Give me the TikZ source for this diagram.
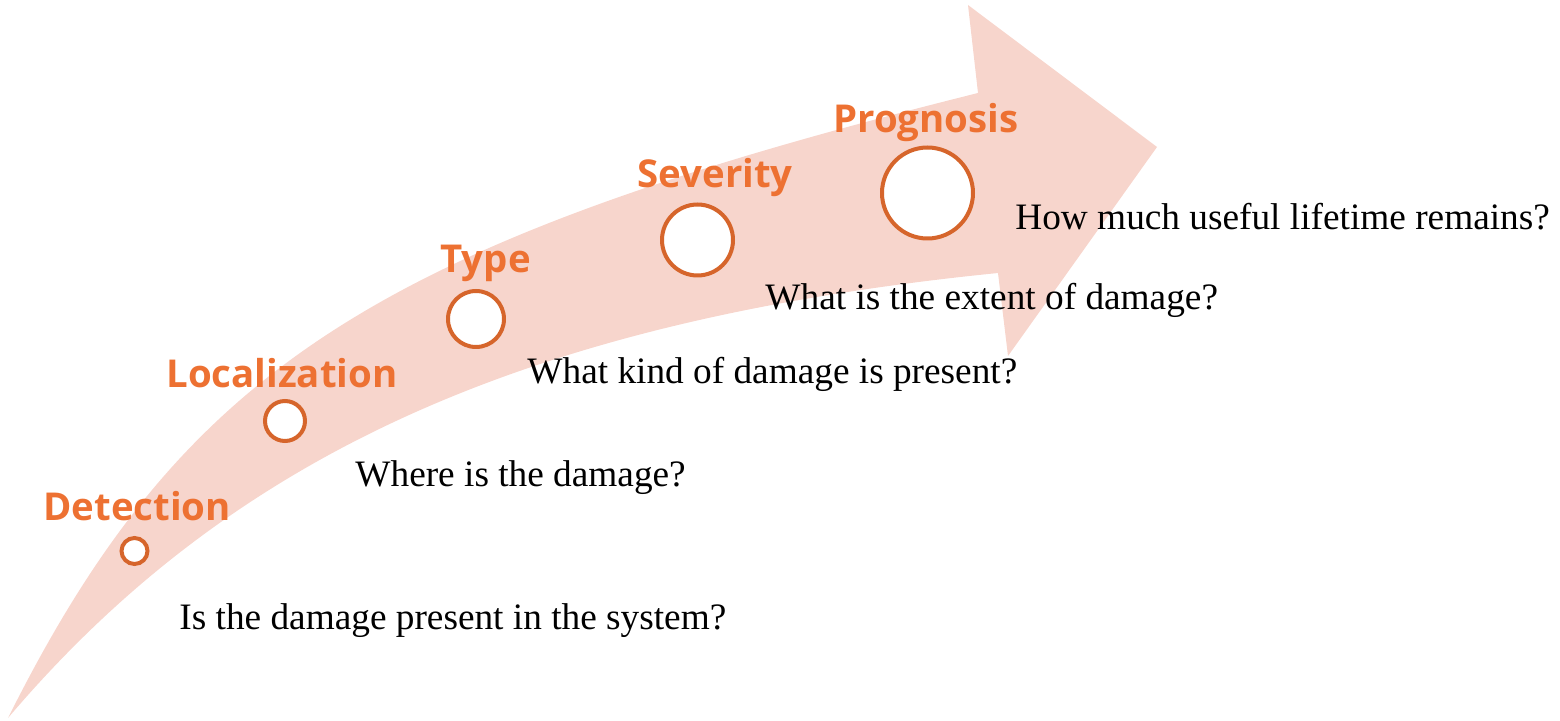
\documentclass[tikz,border=0pt]{standalone}
\usepackage{fontspec}
\setmainfont{Liberation Serif}
\newfontfamily\stagefont{Open Sans}
\definecolor{arrowpink}{HTML}{F7D5CC}
\definecolor{stageorange}{HTML}{ED7132}
\definecolor{ringorange}{HTML}{D6652B}
\begin{document}
\begin{tikzpicture}[x=0.5pt,y=-0.5pt,
  stage/.style={font=\stagefont\bfseries\fontsize{19.2}{21}\selectfont,
    text=stageorange, anchor=base west, inner sep=0pt},
  question/.style={font=\fontsize{18.65}{21}\selectfont,
    anchor=base west, inner sep=0pt},
  ring/.style={circle, draw=ringorange, line width=2pt, fill=white,
    inner sep=0pt}]
\useasboundingbox (0,0) rectangle (1560,721);

% curved progress arrow
\fill[arrowpink] (8,718) .. controls (183,368) and (377,243) .. (978,93)
  -- (968,5) -- (1157,147) -- (1008,356) -- (998,273)
  .. controls (530,320) and (233,453) .. (8,718) -- cycle;

% stage markers
\node[ring, minimum size=13pt]   (r1) at (134.5,551) {};
\node[ring, minimum size=20pt]   (r2) at (285,421) {};
\node[ring, minimum size=28pt]   (r3) at (476,319) {};
\node[ring, minimum size=35.5pt] (r4) at (697.5,240) {};
\node[ring, minimum size=45.5pt] (r5) at (927.5,193) {};

% stage names
\node[stage] (s1) at (43,521)  {Detection};
\node[stage] (s2) at (166,388) {Localization};
\node[stage] (s3) at (440,273) {Type};
\node[stage] (s4) at (637,188) {Severity};
\node[stage] (s5) at (833,133) {Prognosis};

% guiding questions
\node[question] (q1) at (179,630)  {Is the damage present in the system?};
\node[question] (q2) at (355,487)  {Where is the damage?};
\node[question] (q3) at (527,384)  {What kind of damage is present?};
\node[question] (q4) at (765,310)  {What is the extent of damage?};
\node[question] (q5) at (1015,230) {How much useful lifetime remains?};
\end{tikzpicture}
\end{document}
